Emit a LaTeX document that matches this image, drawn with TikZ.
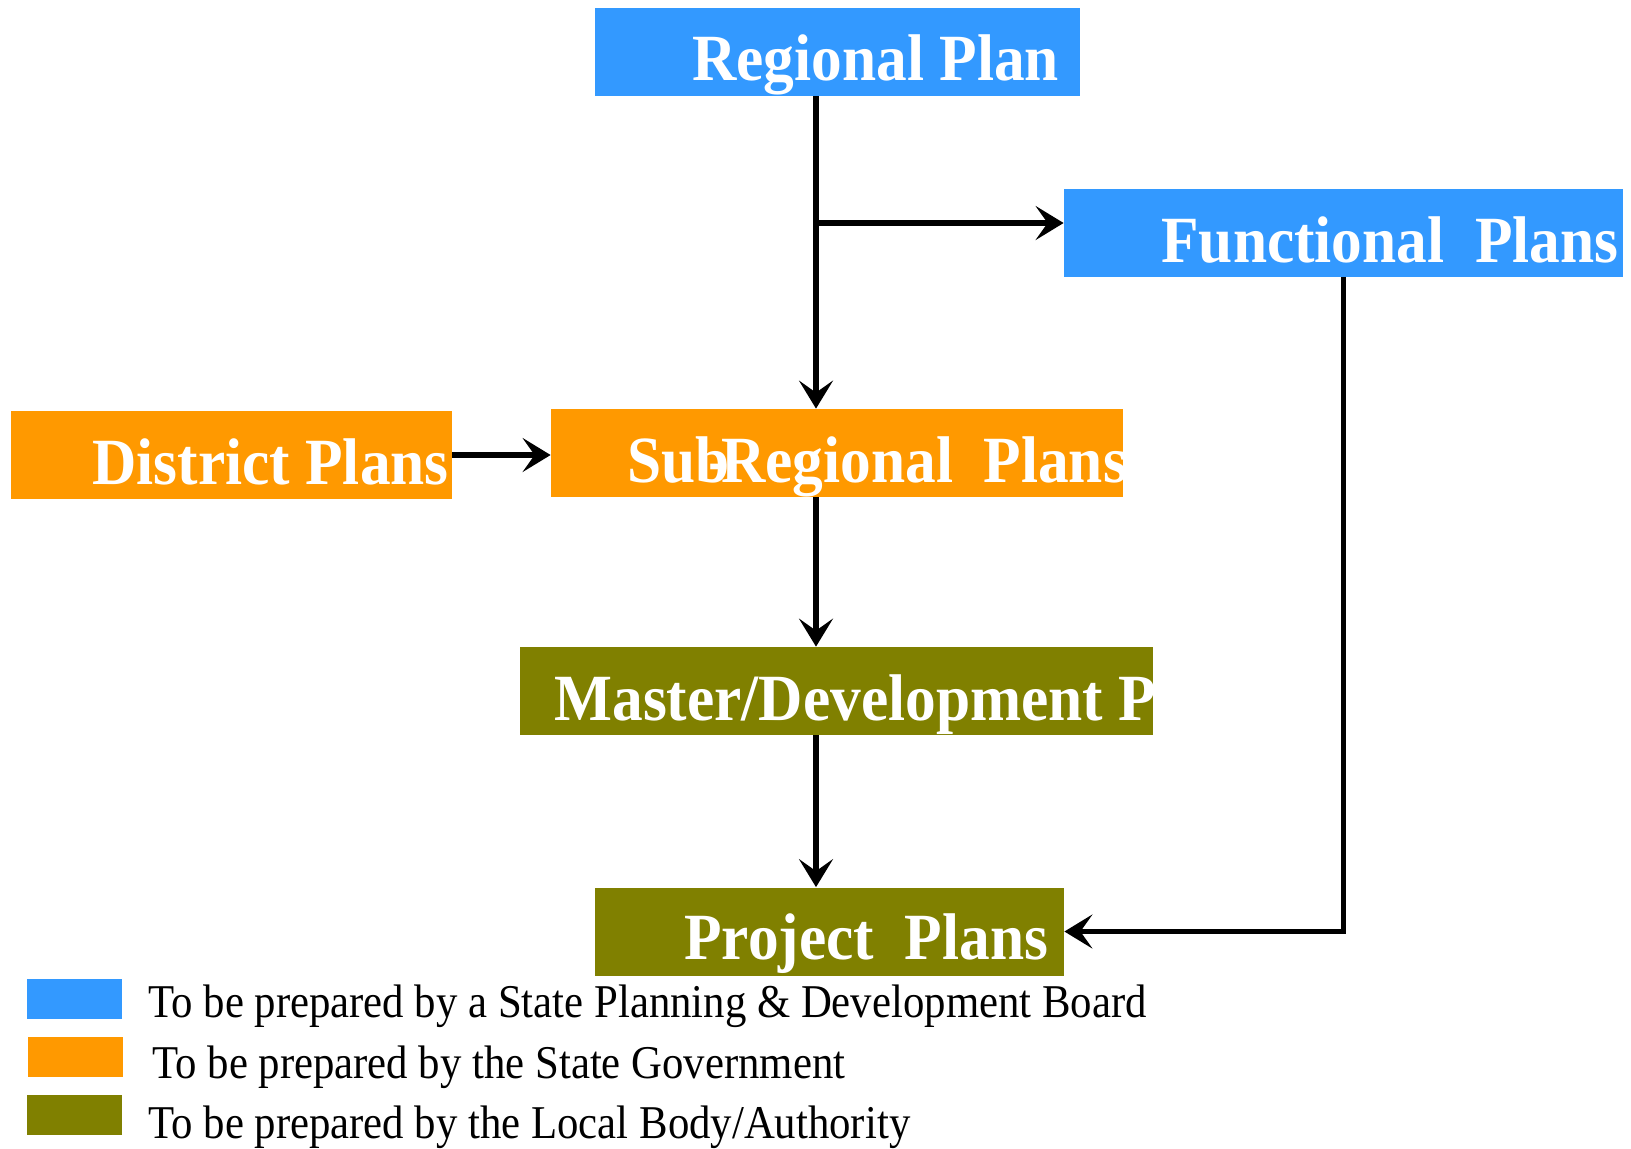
\documentclass[tikz,border=0pt]{standalone}
\usepackage{fontspec}
\setmainfont{Liberation Serif}[FakeStretch=0.91]
\newfontfamily\boxfont{Liberation Serif}[FakeStretch=0.93]
\usetikzlibrary{arrows.meta}
\definecolor{stateblue}{HTML}{3399FF}
\definecolor{govorange}{HTML}{FF9900}
\definecolor{localolive}{HTML}{808000}
\begin{document}
\begin{tikzpicture}[x=0.5pt,y=-0.5pt]
\tikzstyle{every node}+=[inner sep=0pt]
\tikzstyle{plan}=[rectangle, minimum height=44pt]
\tikzstyle{title}=[anchor=base west, text=white, font=\boxfont\bfseries\fontsize{33}{33}\selectfont]
\tikzstyle{legend}=[anchor=base west, font=\fontsize{23.5}{23.5}\selectfont]
\tikzstyle{flow}=[line width=2.8pt, -{Stealth[length=14pt, width=17pt, inset=6pt]}]
\useasboundingbox (0,0) rectangle (1631,1148);
% boxes
\node [plan, fill=stateblue, minimum width=242.5pt] (reg) at (837.5,51.5) {};
\node [plan, fill=stateblue, minimum width=279.5pt] (fun) at (1343.5,232.5) {};
\node [plan, fill=govorange, minimum width=220.5pt] (dist) at (231.5,455) {};
\node [plan, fill=govorange, minimum width=286pt] (sub) at (837,453) {};
\node [plan, fill=localolive, minimum width=316.5pt] (mast) at (836.5,691) {};
\node [plan, fill=localolive, minimum width=234.5pt] (proj) at (829.5,931.5) {};
% labels, cut at the box edges
\begin{scope}
\clip (reg.south west) rectangle (reg.north east);
\node [title] (regtxt) at (692,80) {Regional Plan};
\end{scope}
\begin{scope}
\clip (fun.south west) rectangle (fun.north east);
\node [title] (funtxt) at (1161,262) {Functional\ \ Plans};
\end{scope}
\begin{scope}
\clip (dist.south west) rectangle (dist.north east);
\node [title] (disttxt) at (92,484) {District Plans};
\end{scope}
\begin{scope}
\clip (sub.south west) rectangle (sub.north east);
\node [title] (subtxt) at (627,482) {Sub\kern-0.32em-\kern-0.12em Regional\ \ Plans};
\end{scope}
\begin{scope}
\clip (mast.south west) rectangle (mast.north east);
\node [title] (masttxt) at (554,720) {Master/Development Plans};
\end{scope}
\begin{scope}
\clip (proj.south west) rectangle (proj.north east);
\node [title] (projtxt) at (684,959) {Project\ \ Plans};
\end{scope}
% connectors
\coordinate (spine) at (816,0);
\coordinate (branch) at (816,223);
\draw [flow] (reg.south -| spine) -- (sub.north -| spine);
\draw [flow] (branch) -- (branch -| fun.west);
\draw [flow] (dist.east) -- (dist.east -| sub.west);
\draw [flow] (sub.south -| spine) -- (mast.north -| spine);
\draw [flow] (mast.south -| spine) -- (proj.north -| spine);
\draw [flow] (fun.south) |- (proj.east);
% legend
\node [fill=stateblue, minimum width=47.5pt, minimum height=20pt] (keyblue) at (74.5,999) {};
\node [fill=govorange, minimum width=47.5pt, minimum height=20pt] (keyorange) at (75.5,1056.5) {};
\node [fill=localolive, minimum width=47.5pt, minimum height=20pt] (keyolive) at (74.5,1114.5) {};
\node [legend] (legblue) at (148,1017) {To be prepared by a State Planning \& Development Board};
\node [legend] (legorange) at (152,1078) {To be prepared by the State Government};
\node [legend] (legolive) at (148,1138) {To be prepared by the Local Body/Authority};
\end{tikzpicture}
\end{document}
